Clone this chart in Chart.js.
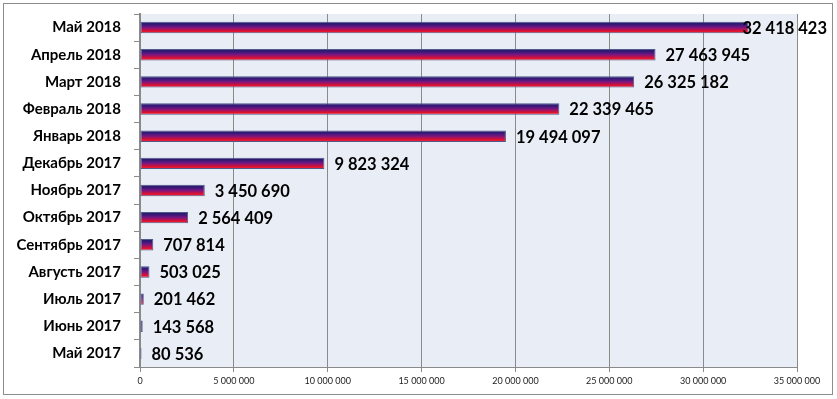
<!DOCTYPE html>
<html>
<head>
<meta charset="utf-8">
<script src="https://cdn.jsdelivr.net/npm/chart.js@4"></script>
<style>
  html, body { margin: 0; padding: 0; background: #fff; }
  #wrap { width: 837px; height: 399px; position: relative; }
</style>
</head>
<body>
<div id="wrap"><canvas id="chart"></canvas></div>
<script>
const months = [
  "Май 2018", "Апрель 2018", "Март 2018", "Февраль 2018", "Январь 2018",
  "Декабрь 2017", "Ноябрь 2017", "Октябрь 2017", "Сентябрь 2017",
  "Августь 2017", "Июль 2017", "Июнь 2017", "Май 2017"
];
const amounts = [
  32418423, 27463945, 26325182, 22339465, 19494097,
  9823324, 3450690, 2564409, 707814,
  503025, 201462, 143568, 80536
];
const xTicks = [0, 5000000, 10000000, 15000000, 20000000, 25000000, 30000000, 35000000];

function spaced(n) {
    return String(n).replace(/\B(?=(\d{3})+(?!\d))/g, " ");
}

const BAR_PCT = 0.42;

function barGradient(context) {
    const chart = context.chart;
    const y = chart.scales.y;
    if (!y || !chart.chartArea || context.dataIndex === undefined) return "#6a1a8a";
    const yc = y.getPixelForValue(context.dataIndex);
    const half = (y.getPixelForValue(1) - y.getPixelForValue(0)) * BAR_PCT / 2;
    const g = chart.ctx.createLinearGradient(0, yc - half, 0, yc + half);
    g.addColorStop(0, "#1c1c6a");
    g.addColorStop(0.25, "#3a1878");
    g.addColorStop(0.5, "#7c1680");
    g.addColorStop(0.8, "#e0102c");
    g.addColorStop(1, "#f0304a");
    return g;
}

const frame = {
    id: "frame",
    beforeDraw(chart) {
        const ctx = chart.ctx;
        const a = chart.chartArea;
        ctx.save();
        ctx.fillStyle = "#ffffff";
        ctx.fillRect(0, 0, chart.width, chart.height);
        ctx.strokeStyle = "#8c8c8c";
        ctx.lineWidth = 1;
        ctx.strokeRect(3.5, 3.5, 829, 391);
        ctx.fillStyle = "#e9edf5";
        ctx.fillRect(a.left, a.top, a.right - a.left, a.bottom - a.top);
        ctx.restore();
    }
};

const valueLabels = {
    id: "valueLabels",
    afterDatasetsDraw(chart) {
        const ctx = chart.ctx;
        const meta = chart.getDatasetMeta(0);
        ctx.save();
        ctx.font = "bold 16.5px Lato, 'Open Sans', sans-serif";
        ctx.fillStyle = "#000";
        ctx.textBaseline = "middle";
        meta.data.forEach((bar, i) => {
            const text = spaced(amounts[i]);
            const w = ctx.measureText(text).width;
            let x = bar.x + 10;
            if (x + w > 827) x = 827 - w;
            ctx.fillText(text, x, bar.y + 1);
        });
        ctx.restore();
    }
};

new Chart(document.getElementById("chart"), {
    type: "bar",
    data: {
        labels: months,
        datasets: [{
            data: amounts,
            backgroundColor: barGradient,
            borderColor: "#4f5a8a",
            borderWidth: 1,
            borderSkipped: false,
            barPercentage: BAR_PCT,
            categoryPercentage: 1
        }]
    },
    options: {
        indexAxis: "y",
        responsive: true,
        maintainAspectRatio: false,
        animation: false,
        layout: {
            padding: { top: 14, right: 40, left: 0, bottom: 8 }
        },
        plugins: {
            legend: { display: false },
            tooltip: { enabled: false }
        },
        scales: {
            x: {
                min: 0,
                max: 35000000,
                afterBuildTicks: function(scale) {
                    scale.ticks = xTicks.map(v => ({ value: v }));
                },
                afterFit: function(scale) {
                    scale.height = 24;
                },
                ticks: {
                    color: "#222",
                    font: { size: 9, family: "Lato, 'Open Sans', sans-serif" },
                    padding: 4,
                    maxRotation: 0,
                    callback: function(value) {
                        return spaced(value);
                    }
                },
                grid: {
                    color: "#8a8a8a",
                    lineWidth: 1,
                    tickLength: 5,
                    drawTicks: true
                },
                border: { color: "#8a8a8a", width: 1 }
            },
            y: {
                afterFit: function(scale) {
                    scale.width = 140;
                    scale.paddingTop = 0;
                    scale.paddingBottom = 0;
                },
                ticks: {
                    color: "#000",
                    font: { size: 15, weight: "bold", family: "Lato, 'Open Sans', sans-serif" },
                    padding: 13
                },
                grid: {
                    drawOnChartArea: false,
                    color: "#8a8a8a",
                    tickLength: 6,
                    offset: true
                },
                border: { color: "#8a8a8a", width: 2 }
            }
        }
    },
    plugins: [frame, valueLabels]
});
</script>
</body>
</html>
